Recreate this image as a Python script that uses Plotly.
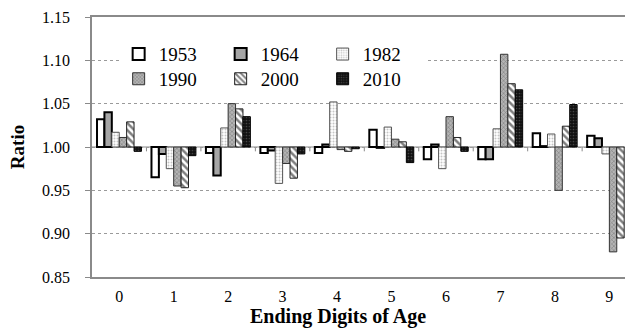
import plotly.graph_objects as go

# Ratio of reported population by the final digit of age, per census year
digits = [0, 1, 2, 3, 4, 5, 6, 7, 8, 9]
digit_labels = ["0", "1", "2", "3", "4", "5", "6", "7", "8", "9"]
years = ["1953", "1964", "1982", "1990", "2000", "2010"]

r1953 = [1.032, 0.965, 0.993, 0.993, 0.993, 1.020, 0.986, 0.986, 1.016, 1.013]
r1964 = [1.040, 0.992, 0.967, 0.996, 1.003, 0.999, 1.003, 0.986, 1.001, 1.010]
r1982 = [1.017, 0.975, 1.022, 0.958, 1.052, 1.023, 0.975, 1.021, 1.015, 0.992]
r1990 = [1.011, 0.955, 1.050, 0.981, 0.997, 1.009, 1.035, 1.107, 0.950, 0.879]
r2000 = [1.029, 0.953, 1.044, 0.964, 0.995, 1.006, 1.011, 1.073, 1.024, 0.895]
r2010 = [0.995, 0.990, 1.035, 0.992, 0.998, 0.982, 0.995, 1.066, 1.049, None]

series = [r1953, r1964, r1982, r1990, r2000, r2010]
y_ticks = [0.85, 0.90, 0.95, 1.00, 1.05, 1.10, 1.15]

BASE = 1.0
FONT = "Liberation Serif"

styles = {
    "1953": dict(color="white", line=dict(color="black", width=2)),
    "1964": dict(color="#a6a6a6", line=dict(color="black", width=2)),
    "1982": dict(color="white", line=dict(color="#555", width=1),
                 pattern=dict(shape=".", fgcolor="#8c8c8c", bgcolor="white",
                              size=3, solidity=0.35)),
    "1990": dict(color="#999", line=dict(color="#333", width=1),
                 pattern=dict(shape="x", fgcolor="#4a4a4a", bgcolor="#b4b4b4",
                              size=3, solidity=0.35)),
    "2000": dict(color="white", line=dict(color="#222", width=1),
                 pattern=dict(shape="\\", fgcolor="black", bgcolor="white",
                              size=5, solidity=0.5)),
    "2010": dict(color="#111", line=dict(color="black", width=1),
                 pattern=dict(shape=".", fgcolor="#777", bgcolor="#111",
                              size=3, solidity=0.25)),
}

# first three years in the upper legend row, the rest in the lower one
legend_of = {"1953": "legend", "1964": "legend", "1982": "legend",
             "1990": "legend2", "2000": "legend2", "2010": "legend2"}

fig = go.Figure()
for year, vals in zip(years, series):
    fig.add_trace(go.Bar(
        name=year,
        x=digits,
        y=[None if v is None else v - BASE for v in vals],
        base=BASE,
        marker=styles[year],
        legend=legend_of[year],
    ))

# baseline at ratio 1.00 and the small category ticks hanging from it
shapes = [dict(type="line", xref="paper", yref="y", x0=0, x1=1,
               y0=BASE, y1=BASE, line=dict(color="#8a8a8a", width=1.2),
               layer="below")]
for d in digits:
    shapes.append(dict(type="line", xref="x", yref="y", x0=d + 0.5, x1=d + 0.5,
                       y0=BASE, y1=BASE - 0.005,
                       line=dict(color="#8a8a8a", width=1), layer="below"))

legend_common = dict(
    orientation="h", xanchor="left", yanchor="top", borderwidth=0,
    font=dict(family=FONT, size=19, color="black"),
    entrywidth=57, entrywidthmode="pixels", traceorder="normal",
)

plot_w = 625 - 92
plot_h = 329 - 17 - 52

fig.update_layout(
    width=625, height=329,
    margin=dict(l=92, r=0, t=17, b=52),
    paper_bgcolor="white", plot_bgcolor="white",
    barmode="group", bargap=0.184, bargroupgap=0,
    shapes=shapes,
    showlegend=True,
    legend=dict(legend_common, x=0.05, y=0.93, bgcolor="white"),
    legend2=dict(legend_common, x=0.05, y=0.835, bgcolor="rgba(0,0,0,0)"),
    annotations=[dict(
        text="<b>Ending Digits of Age</b>", xref="paper", yref="paper",
        x=(338 - 92) / plot_w, y=-(316 - 277) / plot_h,
        xanchor="center", yanchor="middle", showarrow=False,
        font=dict(family=FONT, size=20, color="black"),
    )],
)

fig.update_xaxes(
    range=[-0.5, 9.287],
    tickvals=digits, ticktext=digit_labels,
    ticks="", ticklabelstandoff=4,
    tickfont=dict(family=FONT, size=16, color="black"),
    showgrid=False, zeroline=False,
    showline=True, linecolor="#8a8a8a", linewidth=1.5, mirror=True,
)
fig.update_yaxes(
    range=[0.85, 1.15],
    tickvals=y_ticks, ticktext=[f"{t:.2f}" for t in y_ticks],
    ticks="outside", ticklen=5, tickcolor="#8a8a8a", ticklabelstandoff=12,
    tickfont=dict(family=FONT, size=16, color="black"),
    showgrid=True, gridcolor="#9a9a9a", griddash="dot", gridwidth=1,
    zeroline=False,
    showline=True, linecolor="#8a8a8a", linewidth=1.5,
    title=dict(text="<b>Ratio</b>", standoff=12,
               font=dict(family=FONT, size=19, color="black")),
)

fig.write_html("out.html")
